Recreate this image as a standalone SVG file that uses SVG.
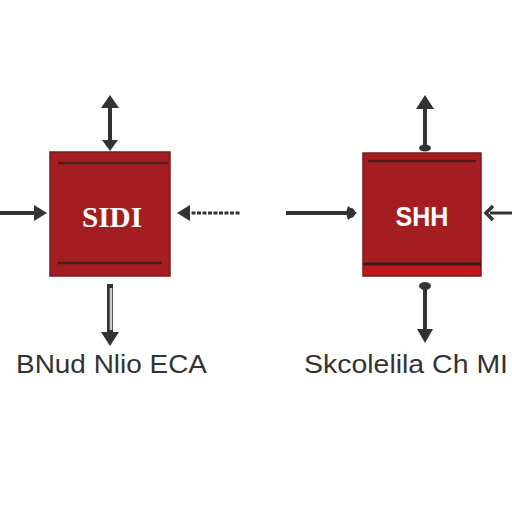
<svg xmlns="http://www.w3.org/2000/svg" width="512" height="512" viewBox="0 0 512 512">
<style>
.box{fill:#a41e21;stroke:#7a1a1a;stroke-width:1.5}
.rule{stroke:#4a1c1c;stroke-width:2.5}
.ln{stroke:#333;stroke-width:4;fill:none}
.hd{fill:#333}
.lbl{font-family:"Liberation Sans",Arial,sans-serif;font-size:25px;fill:#333}
</style>
<rect width="512" height="512" fill="#fff"/>
<g id="node-sidi">
<rect class="box" x="50" y="152" width="120" height="124"/>
<line class="rule" x1="58" y1="163" x2="168" y2="163"/>
<line class="rule" x1="58" y1="263" x2="162" y2="263"/>
<text x="112" y="227" text-anchor="middle" font-family="Liberation Serif,serif" font-weight="bold" font-size="29" fill="#fff" textLength="60" lengthAdjust="spacingAndGlyphs">SIDI</text>
</g>
<g id="node-shh">
<rect class="box" x="363" y="153" width="118" height="123"/>
<line class="rule" x1="368" y1="161" x2="476" y2="161"/>
<line x1="363" y1="264" x2="481" y2="264" stroke="#3a1a1a" stroke-width="3"/>
<rect x="364" y="266" width="116" height="9" fill="#c0191c"/>
<text x="422" y="226" text-anchor="middle" font-family="Liberation Sans,Arial,sans-serif" font-weight="bold" font-size="27" fill="#fff" textLength="53" lengthAdjust="spacingAndGlyphs">SHH</text>
</g>
<g id="connectors">
<!-- left box top double arrow -->
<line class="ln" x1="110" y1="106" x2="110" y2="140"/>
<polygon class="hd" points="110,95 101,108 119,108"/>
<polygon class="hd" points="110,151 102,140 118,140"/>
<!-- left box left arrow -->
<line class="ln" x1="0" y1="213" x2="36" y2="213"/>
<polygon class="hd" points="47,213 34,205 34,221"/>
<!-- left box right arrow -->
<line x1="186" y1="213" x2="240" y2="213" stroke="#333" stroke-width="3" stroke-dasharray="4,1.5"/>
<polygon class="hd" points="177,213 190,205 190,221"/>
<!-- left box bottom arrow -->
<line x1="110" y1="284" x2="110" y2="333" stroke="#333" stroke-width="6"/>
<line x1="111" y1="288" x2="111" y2="330" stroke="#ccc" stroke-width="2.5"/>
<polygon class="hd" points="110,346 101,332 119,332"/>
<!-- right box top arrow -->
<line class="ln" x1="425" y1="106" x2="425" y2="146"/>
<polygon class="hd" points="425,95 416,109 434,109"/>
<ellipse class="hd" cx="425" cy="148" rx="6" ry="3.5"/>
<!-- right box left arrow -->
<line class="ln" x1="286" y1="213" x2="350" y2="213"/>
<polygon class="hd" points="357,213 348,206 346,213 348,220"/>
<ellipse class="hd" cx="351" cy="213" rx="4" ry="5"/>
<!-- right box right arrow -->
<line x1="490" y1="213" x2="512" y2="213" stroke="#333" stroke-width="3"/>
<polyline points="493,206 486,213 493,220" fill="none" stroke="#333" stroke-width="3.5"/>
<!-- right box bottom arrow -->
<ellipse class="hd" cx="425" cy="286" rx="6" ry="4"/>
<line class="ln" x1="425" y1="286" x2="425" y2="330"/>
<polygon class="hd" points="425,343 417,329 433,329"/>
</g>
<text class="lbl" x="16" y="373" textLength="191" lengthAdjust="spacingAndGlyphs">BNud Nlio ECA</text>
<text class="lbl" x="304" y="373" textLength="204" lengthAdjust="spacingAndGlyphs">Skcolelila Ch MI</text>
</svg>
